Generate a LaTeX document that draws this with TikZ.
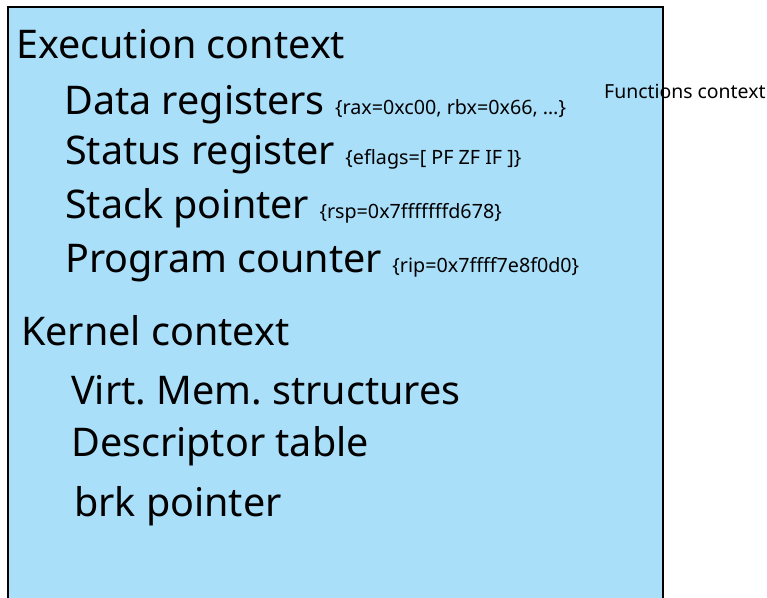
\documentclass[tikz,border=0pt]{standalone}
\usepackage{fontspec}
\setmainfont{Noto Sans}
\usetikzlibrary{positioning}
\definecolor{ctxblue}{HTML}{AADFFA}
\frenchspacing
\tikzset{
  ctxbox/.style   = {draw=black, fill=ctxblue, line width=1.5pt},
  ctxhead/.style  = {anchor=base west, inner sep=0pt, font=\fontsize{39.5}{46}\selectfont},
  ctxitem/.style  = {anchor=base west, inner sep=0pt, font=\fontsize{39.5}{46}\selectfont},
  ctxnote/.style  = {anchor=base west, inner sep=0pt, font=\fontsize{19.4}{23}\selectfont},
}
\newcommand{\regval}[1]{{\fontsize{19.7}{23}\selectfont\{#1\}}}

\begin{document}
\begin{tikzpicture}[x=1pt,y=1pt]
\useasboundingbox (0,0) rectangle (767,597);
% process box, runs off the bottom
\draw[ctxbox] (8,-20) rectangle (663,590);

% execution context
\node[ctxhead] (exec)   at (16,538) {Execution context};
\node[ctxitem] (data)   at (64,482) {Data registers \regval{rax=0xc00, rbx=0x66, \ldots}};
\node[ctxitem] (status) at (65,432) {Status register \regval{eflags=[ PF ZF IF ]}};
\node[ctxitem] (stack)  at (65,378) {Stack pointer \regval{rsp=0x7fffffffd678}};
\node[ctxitem] (pc)     at (65,324) {Program counter \regval{rip=0x7ffff7e8f0d0}};

% kernel context
\node[ctxhead] (kernel) at (21,251) {Kernel context};
\node[ctxitem] (vmem)   at (71,193) {Virt. Mem. structures};
\node[ctxitem] (desc)   at (71,141) {Descriptor table};
\node[ctxitem] (brk)    at (74,81)  {brk pointer};

% label on the right edge
\node[ctxnote] (func)   at (604,498) {Functions context};
\end{tikzpicture}
\end{document}
